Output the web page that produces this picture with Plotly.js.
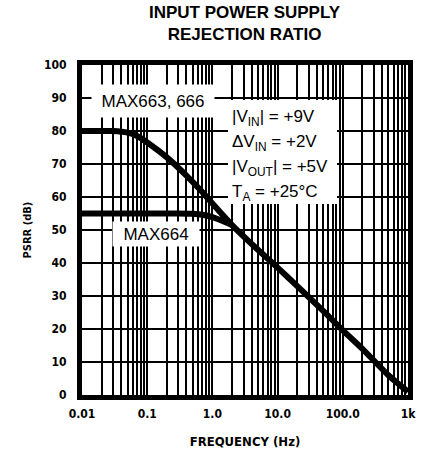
<!DOCTYPE html>
<html><head><meta charset="utf-8">
<script src="https://cdn.plot.ly/plotly-3.0.1.min.js"></script>
<style>body{margin:0;background:#fff}#c{width:426px;height:458px}</style>
</head><body><div id="c"></div>
<script>
// Data (frequency in Hz, PSRR in dB)
const freqMain = [0.01, 0.02, 0.03, 0.05, 0.07, 0.1, 0.2, 0.4, 0.7, 1, 2, 5, 10, 20, 50, 100, 200, 500, 1000];
const psrrMain = [80, 80, 80, 79.5, 78.5, 76.5, 72, 66.5, 61.5, 58, 51.5, 44, 38.6, 33, 25.5, 19.6, 14, 6, 1];
const freq664 = [0.01, 0.1, 0.3, 0.5, 0.7, 1, 1.5, 2];
const psrr664 = [55, 55, 55, 54.9, 54.6, 53.9, 52.6, 51.5];
const xTickVals = [0.01, 0.1, 1, 10, 100, 1000];
const xTickText = ["0.01", "0.1", "1.0", "10.0", "100.0", "1k"];
const yTickVals = [0, 10, 20, 30, 40, 50, 60, 70, 80, 90, 100];
const condLines = ["|V<sub>IN</sub>| = +9V", "ΔV<sub>IN</sub> = +2V", "|V<sub>OUT</sub>| = +5V", "T<sub>A</sub> = +25°C"];

// grid positions (1..9 x each decade) with labels only at decades
const gridVals = [], gridText = [];
for (let e = -2; e <= 2; e++) {
  for (let m = 1; m <= 9; m++) {
    const v = m * Math.pow(10, e);
    gridVals.push(v);
    const i = xTickVals.findIndex(t => Math.abs(t - v) / v < 1e-9);
    gridText.push(i >= 0 ? xTickText[i] : "");
  }
}
gridVals.push(1000); gridText.push(xTickText[5]);

const narrow = "Liberation Sans Narrow, DejaVu Sans Condensed, sans-serif";
const tickFont = {family: narrow, size: 12, color: "#000", weight: "bold"};
const lblFont = {family: "Liberation Sans, Arial", size: 17, color: "#000"};

const traces = [
  {x: freq664, y: psrr664, mode: "lines", line: {color: "#000", width: 6, shape: "spline", smoothing: 0.6}, hoverinfo: "skip"},
  {x: freqMain, y: psrrMain, mode: "lines", line: {color: "#000", width: 6, shape: "spline", smoothing: 0.6}, hoverinfo: "skip"}
];

// plot-pixel helpers for placing labels (x pixel -> log10 f, y pixel -> dB, y pixel -> paper)
const px2x = p => -2 + (p - 82) * 5 / 326;
const px2y = p => (395 - p) * 100 / 330;
const px2paper = p => (395 - p) / 330;

const annotations = [
  {xref: "paper", yref: "paper", x: 0.5, y: px2paper(24), xanchor: "center", yanchor: "middle",
   text: "<b>INPUT POWER SUPPLY<br>REJECTION RATIO</b>", showarrow: false,
   font: {family: "Liberation Sans, Arial", size: 17, color: "#000"}},
  {xref: "x", yref: "y", x: px2x(153), y: px2y(101), text: "MAX663, 666", showarrow: false, bgcolor: "#fff",
   width: 120, height: 30, font: lblFont},
  {xref: "x", yref: "y", x: px2x(156), y: px2y(234), text: "MAX664", showarrow: false, bgcolor: "#fff",
   width: 84, height: 22, font: lblFont}
];
const condY = [118, 143, 168, 193];
condLines.forEach((t, i) => annotations.push({xref: "x", yref: "y", x: px2x(230), y: px2y(condY[i]), xanchor: "left",
  yanchor: "middle", text: t, showarrow: false, font: lblFont}));

const layout = {
  width: 426, height: 458,
  margin: {l: 82, r: 18, t: 65, b: 63},
  paper_bgcolor: "#fff", plot_bgcolor: "#fff",
  showlegend: false,
  xaxis: {type: "log", range: [-2, 3], tickmode: "array", tickvals: gridVals, ticktext: gridText,
          showgrid: true, gridcolor: "#000", gridwidth: 2, ticks: "", ticklabelstandoff: 4,
          showline: true, linecolor: "#000", linewidth: 5, mirror: true, zeroline: false,
          tickfont: tickFont,
          title: {text: "FREQUENCY (Hz)", font: {family: narrow, size: 13, weight: "bold", color: "#000"}, standoff: 18}},
  yaxis: {range: [0, 100], tickmode: "array", tickvals: yTickVals, showgrid: true, gridcolor: "#000", gridwidth: 2,
          ticks: "", ticklabelstandoff: 8, showline: true, linecolor: "#000", linewidth: 5, mirror: true, zeroline: false,
          tickfont: tickFont,
          title: {text: "PSRR (dB)", font: {family: narrow, size: 11, weight: "bold", color: "#000"}, standoff: 12}},
  shapes: [
    {type: "rect", xref: "paper", yref: "paper", x0: (228 - 82) / 326, x1: (337 - 82) / 326, y0: px2paper(204), y1: px2paper(100),
     fillcolor: "#fff", line: {width: 0}, layer: "above"}
  ],
  annotations: annotations
};
Plotly.newPlot("c", traces, layout, {displayModeBar: false, staticPlot: true});
</script></body></html>
